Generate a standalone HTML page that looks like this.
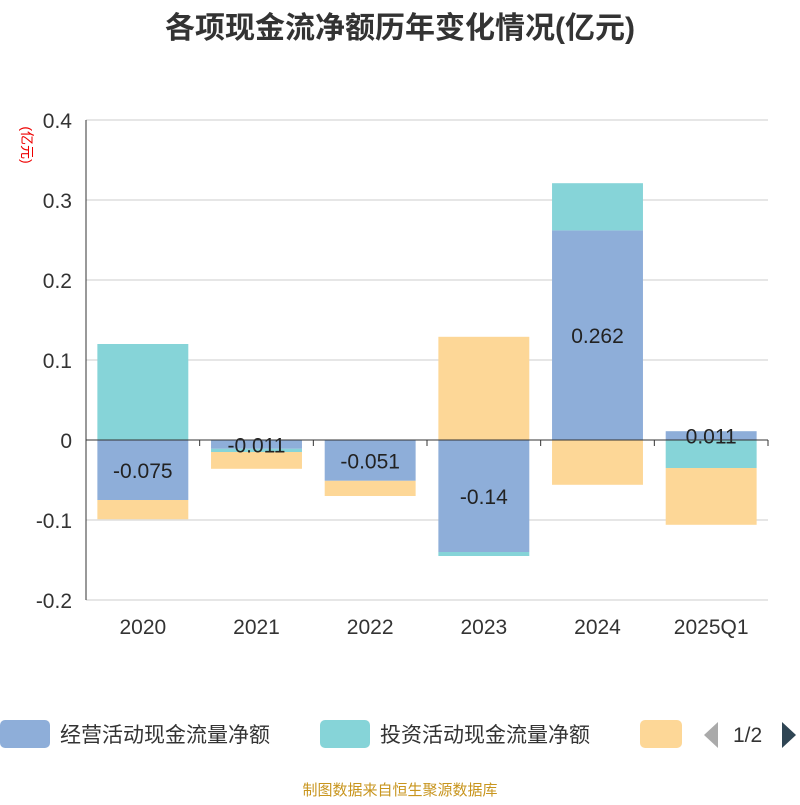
<!DOCTYPE html>
<html><head><meta charset="utf-8"><style>
body{margin:0;background:#fff;font-family:"Liberation Sans","Noto Sans CJK SC",sans-serif}
</style></head><body>
<svg id="c" width="800" height="800" xmlns="http://www.w3.org/2000/svg" font-family="Liberation Sans, Noto Sans CJK SC, sans-serif">
<text x="400" y="38" text-anchor="middle" font-size="30" font-weight="bold" fill="#333">各项现金流净额历年变化情况(亿元)</text>
<text transform="translate(22,145) rotate(90)" text-anchor="middle" font-size="14" fill="#e00">(亿元)</text>
<g id="grid"></g><g id="bars"></g><g id="axes"></g>
<g>
<rect x="0" y="720" width="50" height="28" rx="5" fill="#8eaed9"/>
<text x="60" y="742" font-size="21" fill="#333">经营活动现金流量净额</text>
<rect x="320" y="720" width="50" height="28" rx="5" fill="#86d4d8"/>
<text x="380" y="742" font-size="21" fill="#333">投资活动现金流量净额</text>
<rect x="640" y="720" width="42" height="28" rx="5" fill="#fdd797"/>
<polygon points="718,722 718,748 704,735" fill="#aaa"/>
<text x="733" y="742" font-size="21" fill="#333">1/2</text>
<polygon points="782,722 782,748 796,735" fill="#2f4554"/>
</g>
<text x="400" y="795" text-anchor="middle" font-size="15" fill="#c8951e">制图数据来自恒生聚源数据库</text>
</svg>
<script>
const categories=["2020","2021","2022","2023","2024","2025Q1"];
const operating=[-0.075,-0.011,-0.051,-0.14,0.262,0.011];
const investing=[0.12,-0.004,0,-0.005,0.059,-0.035];
const financing=[-0.024,-0.021,-0.019,0.129,-0.056,-0.071];
const yTicks=[0.4,0.3,0.2,0.1,0,-0.1,-0.2];
const yTickLabels=["0.4","0.3","0.2","0.1","0","-0.1","-0.2"];
const NS="http://www.w3.org/2000/svg";
const x0=86,x1=768,bw=(x1-x0)/categories.length;
const y=v=>440-v*800;
const xc=i=>x0+bw*(i+0.5);
function mk(t,a,p){const e=document.createElementNS(NS,t);for(const k in a)e.setAttribute(k,a[k]);p.appendChild(e);return e;}
const grid=document.getElementById('grid'),bars=document.getElementById('bars'),axes=document.getElementById('axes');
yTicks.forEach((v,i)=>{
 const l=mk('line',{x1:x0,x2:x1,y1:y(v),y2:y(v),stroke:'#ccc'},grid);
 
 
 const t=mk('text',{x:72,y:y(v)+8,'text-anchor':'end','font-size':21,fill:'#333'},axes);
 t.textContent=yTickLabels[i];
 
 
});
const series=[[operating,'#8eaed9','operating'],[investing,'#86d4d8','investing'],[financing,'#fdd797','financing']];
categories.forEach((c,i)=>{
 let pos=0,neg=0;
 series.forEach(([arr,col,nm])=>{
  const v=arr[i];let a,b;
  if(v>=0){a=pos;b=pos+v;pos=b;}else{a=neg;b=neg+v;neg=b;}
  const r=mk('rect',{x:xc(i)-bw*0.4,width:bw*0.8,y:Math.min(y(a),y(b)),height:Math.abs(y(a)-y(b)),fill:col},bars);
  
  
 });
 const v=operating[i];
 const t=mk('text',{x:xc(i),y:y(v/2)+8,'text-anchor':'middle','font-size':21,fill:'#222'},bars);
 t.textContent=String(v);
 
 
 const xl=mk('text',{x:xc(i),y:634,'text-anchor':'middle','font-size':21,fill:'#333'},axes);
 xl.textContent=c;
 
 
 const tk=mk('line',{x1:x0+bw*(i+1),x2:x0+bw*(i+1),y1:440,y2:446,stroke:'#333'},axes);
 
 
});
const ya=mk('line',{x1:x0,x2:x0,y1:y(0.4),y2:y(-0.2),stroke:'#333'},axes);


const xa=mk('line',{x1:x0,x2:x1,y1:440,y2:440,stroke:'#333'},axes);


</script>
</body></html>
